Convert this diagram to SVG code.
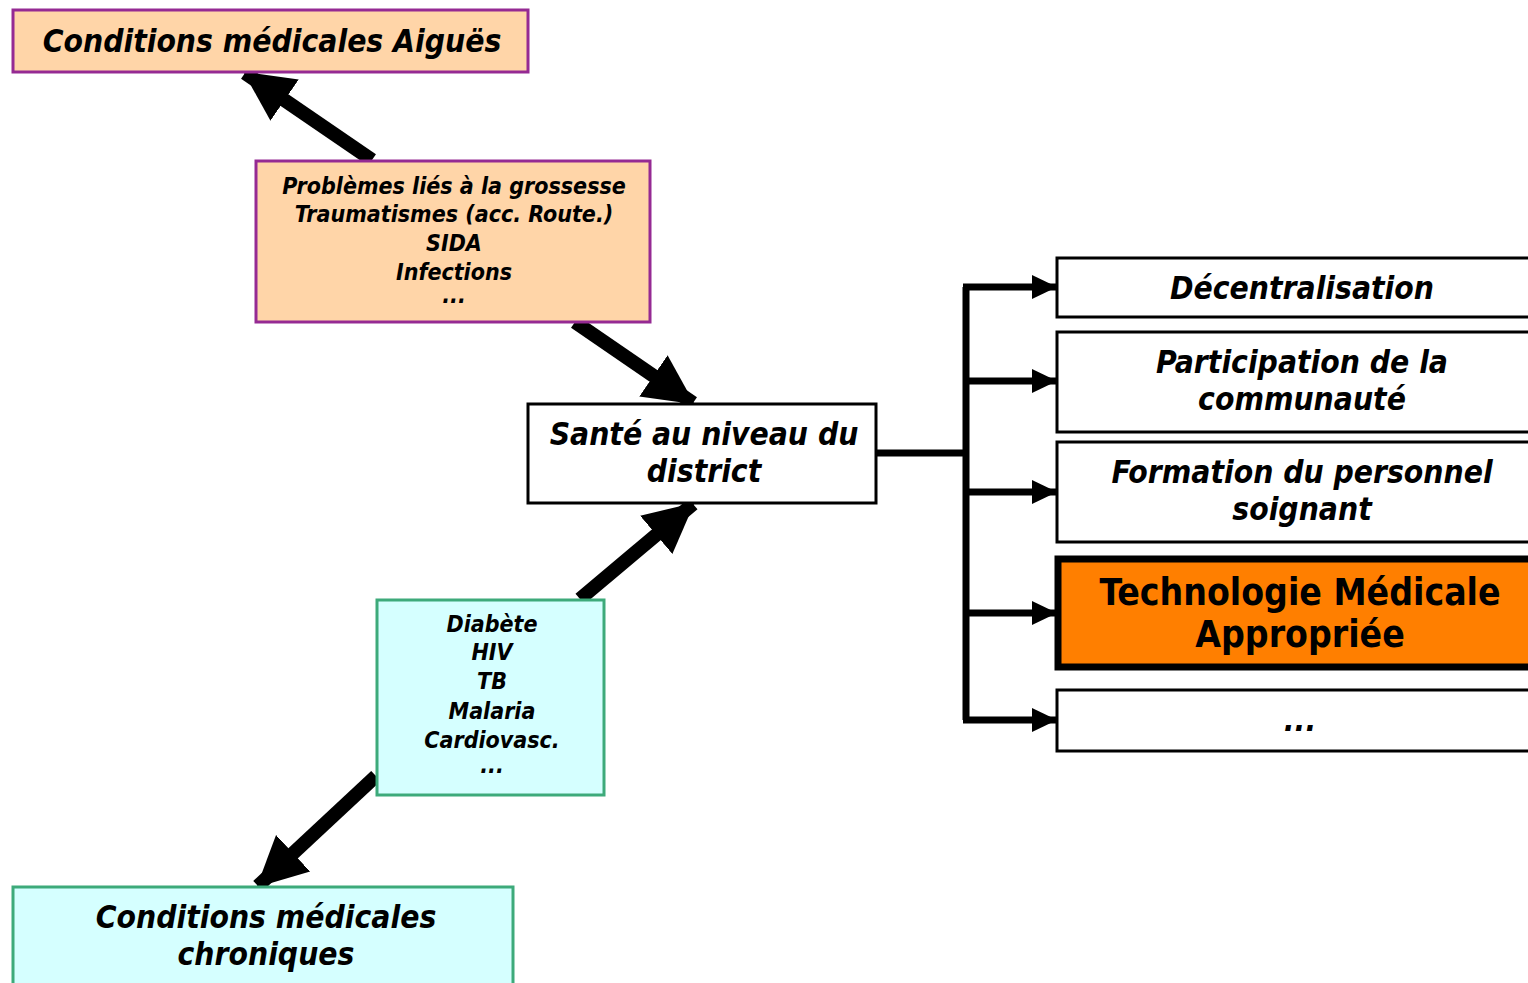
<svg xmlns="http://www.w3.org/2000/svg" width="1528" height="983" viewBox="0 0 1528 983">
<style>
text{font-family:"DejaVu Sans Condensed","DejaVu Sans",sans-serif;font-weight:bold;font-style:italic;text-anchor:middle;fill:#000}
.big{font-size:31.5px}
.small{font-size:23px}
.tech{font-size:37px;font-style:normal}
.acute{fill:#FFD5A8;stroke:#952A93;stroke-width:3}
.chron{fill:#D5FFFF;stroke:#3DAA7A;stroke-width:3}
.plain{fill:#fff;stroke:#000;stroke-width:3}
.thick{stroke:#000;stroke-width:14;fill:none}
.bus{stroke:#000;stroke-width:7;fill:none}
</style>
<defs>
<marker id="bigHead" markerUnits="userSpaceOnUse" markerWidth="52" markerHeight="52" refX="48" refY="25" orient="auto" viewBox="0 0 52 50">
<path d="M0,0 L50,25 L0,50 z" fill="#000"/>
</marker>
<marker id="smallHead" markerUnits="userSpaceOnUse" markerWidth="26" markerHeight="26" refX="24" refY="12" orient="auto" viewBox="0 0 26 24">
<path d="M0,0 L25,12 L0,24 z" fill="#000"/>
</marker>
</defs>
<g id="connectors">
<line class="thick" x1="372" y1="160" x2="245" y2="73" marker-end="url(#bigHead)"/>
<line class="thick" x1="575" y1="322" x2="693" y2="403" marker-end="url(#bigHead)"/>
<line class="thick" x1="580" y1="599" x2="693" y2="504" marker-end="url(#bigHead)"/>
<line class="thick" x1="376" y1="776" x2="258" y2="886" marker-end="url(#bigHead)"/>
<path class="bus" d="M876,453 H966 M966,287 V720"/>
<line class="bus" x1="963" y1="287" x2="1056" y2="287" marker-end="url(#smallHead)"/>
<line class="bus" x1="963" y1="381" x2="1056" y2="381" marker-end="url(#smallHead)"/>
<line class="bus" x1="963" y1="492" x2="1056" y2="492" marker-end="url(#smallHead)"/>
<line class="bus" x1="963" y1="613" x2="1056" y2="613" marker-end="url(#smallHead)"/>
<line class="bus" x1="963" y1="720" x2="1056" y2="720" marker-end="url(#smallHead)"/>
</g>
<g id="aigues">
<rect class="acute" x="13" y="10" width="515" height="62"/>
<text class="big" x="272" y="52">Conditions médicales Aiguës</text>
</g>
<g id="problemes">
<rect class="acute" x="256" y="161" width="394" height="161"/>
<text class="small" x="454" y="194">Problèmes liés à la grossesse</text>
<text class="small" x="454" y="222">Traumatismes (acc. Route.)</text>
<text class="small" x="454" y="251">SIDA</text>
<text class="small" x="454" y="280">Infections</text>
<text class="small" x="454" y="303">...</text>
</g>
<g id="sante">
<rect class="plain" x="528" y="404" width="348" height="99"/>
<text class="big" x="704" y="445">Santé au niveau du</text>
<text class="big" x="704" y="482">district</text>
</g>
<g id="diabete">
<rect class="chron" x="377" y="600" width="227" height="195"/>
<text class="small" x="492" y="632">Diabète</text>
<text class="small" x="492" y="660">HIV</text>
<text class="small" x="492" y="689">TB</text>
<text class="small" x="492" y="719">Malaria</text>
<text class="small" x="492" y="748">Cardiovasc.</text>
<text class="small" x="492" y="773">...</text>
</g>
<g id="chroniques">
<rect class="chron" x="13" y="887" width="500" height="110"/>
<text class="big" x="266" y="928">Conditions médicales</text>
<text class="big" x="266" y="965">chroniques</text>
</g>
<g id="decentralisation">
<rect class="plain" x="1057" y="258" width="480" height="59"/>
<text class="big" x="1302" y="299">Décentralisation</text>
</g>
<g id="participation">
<rect class="plain" x="1057" y="332" width="480" height="100"/>
<text class="big" x="1302" y="373">Participation de la</text>
<text class="big" x="1302" y="410">communauté</text>
</g>
<g id="formation">
<rect class="plain" x="1057" y="442" width="480" height="100"/>
<text class="big" x="1302" y="483">Formation du personnel</text>
<text class="big" x="1302" y="520">soignant</text>
</g>
<g id="technologie">
<rect x="1058" y="559" width="480" height="108" fill="#FF7F00" stroke="#000" stroke-width="7"/>
<text class="tech" x="1300" y="605">Technologie Médicale</text>
<text class="tech" x="1300" y="647">Appropriée</text>
</g>
<g id="etc">
<rect class="plain" x="1057" y="690" width="480" height="61"/>
<text class="big" x="1300" y="731">...</text>
</g>
</svg>
